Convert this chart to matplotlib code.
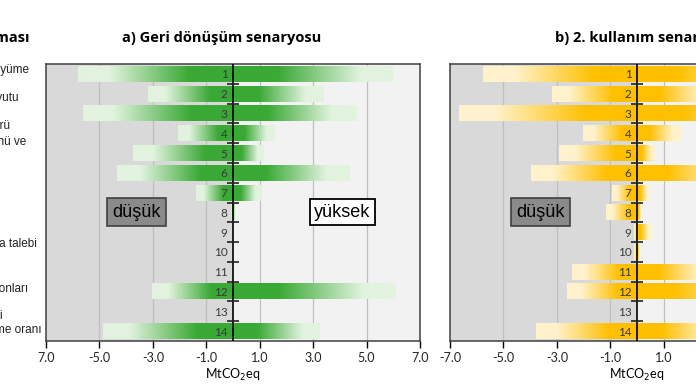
import numpy as np
import matplotlib
matplotlib.use("Agg")
import matplotlib.pyplot as plt
from matplotlib.colors import LinearSegmentedColormap

# parameter numbers (rows)
rows = list(range(1, 15))

# a) recycling scenario, MtCO2eq (low side / high side), 0 = no bar
a_low = [-5.8, -3.2, -5.6, -2.07, -3.74, -4.34, -1.39, -0.08, 0, 0, 0, -3.05, 0, -4.87]
a_high = [5.97, 3.37, 4.64, 1.57, 1.15, 4.37, 1.03, 0.05, 0, 0, 0, 6.09, 0, 3.25]

# b) reuse scenario
b_low = [-5.78, -3.17, -6.68, -2.02, -2.92, -3.96, -0.93, -1.17, -0.12, -0.12, -2.44, -2.63, 0, -3.79]
b_high = [5.5, 3.0, 6.0, 1.65, 0.64, 4.0, 0.44, 0.18, 0.49, 0.09, 2.9, 5.0, 0, 3.3]

xticks = [-7, -5, -3, -1, 1, 3, 5, 7]
a_ticklabels = ["7.0", "-5.0", "-3.0", "-1.0", "1.0", "3.0", "5.0", "7.0"]
b_ticklabels = ["-7.0", "-5.0", "-3.0", "-1.0", "1.0", "3.0", "5.0", "7.0"]

# category labels on the left (cut off by the image edge)
side_title = "Parametre açıklaması"
side_labels = ["Ekonomik büyüme", "Nüfus boyutu", "Bina türü", "Yapı ömrünü ve",
               "Barınma talebi", "Üretim emisyonları", "Geri dönüşüm verimi",
               "Yeniden işleme oranı"]
side_y = [70, 98, 126, 142, 244, 288, 316, 330]
side_xend = [29, 19, 10, 26, 37, 28, 3, 42]

W, H = 696, 385
fig = plt.figure(figsize=(W / 100, H / 100), dpi=100)

green = LinearSegmentedColormap.from_list(
    "g", [(0, "#3aa935"), (0.28, "#3aa935"), (0.8, "#e2f3df"), (1, "#e2f3df")])
gold = LinearSegmentedColormap.from_list(
    "y", [(0, "#ffc000"), (0.28, "#ffc000"), (0.8, "#fff2cc"), (1, "#fff2cc")])

grad = np.linspace(0, 1, 256).reshape(1, -1)


def panel(ax, low, high, cmap, ticklabels):
    ax.axvspan(-7, 0, color="#d9d9d9", zorder=0, lw=0)
    ax.axvspan(0, 7, color="#f2f2f2", zorder=0, lw=0)
    for g in [-5, -3, -1, 1, 3, 5]:
        ax.axvline(g, color="#bfbfbf", lw=0.9, zorder=1)
    h = 0.8
    for r, lo, hi in zip(rows, low, high):
        if lo < 0:
            ax.imshow(grad[:, ::-1], cmap=cmap, extent=[lo, 0, r + h / 2, r - h / 2],
                      aspect="auto", interpolation="bilinear", zorder=2)
        if hi > 0:
            ax.imshow(grad, cmap=cmap, extent=[0, hi, r + h / 2, r - h / 2],
                      aspect="auto", interpolation="bilinear", zorder=2)
        ax.text(-0.2, r + 0.05, str(r), ha="right", va="center", fontsize=8.5,
                color="#3a3a3a", family="Lato", zorder=4)
    ax.axvline(0, color="black", lw=1.2, zorder=3)
    ax.plot([0] * 13, [r + 0.5 for r in rows[:-1]], ls="none", marker="_",
            ms=8, mew=1.2, color="#222222", zorder=3)
    ax.set_xlim(-7, 7)
    ax.set_ylim(14.5, 0.5)
    ax.set_yticks([])
    ax.set_xticks(xticks)
    ax.set_xticklabels(ticklabels, fontsize=9, family="Lato", color="#222222")
    ax.tick_params(axis="x", direction="out", length=5, width=1, pad=3)
    ax.set_xlabel("MtCO$_2$eq", fontsize=9, family="Lato", labelpad=2)
    for s in ax.spines.values():
        s.set_color("#404040")
        s.set_linewidth(1.1)


ax1 = fig.add_axes([46 / W, 44 / H, 374 / W, 277 / H])
panel(ax1, a_low, a_high, green, a_ticklabels)
ax2 = fig.add_axes([450 / W, 44 / H, 374 / W, 277 / H])
panel(ax2, b_low, b_high, gold, b_ticklabels)

grey_box = dict(boxstyle="square,pad=0.3", fc="#8a8a8a", ec="#404040", lw=1.2)
white_box = dict(boxstyle="square,pad=0.25", fc="white", ec="black", lw=1.3)
ax1.text(-3.6, 8, "düşük", ha="center", va="center", fontsize=13,
         family="Liberation Sans", bbox=grey_box, zorder=5)
ax1.text(4.1, 8, "yüksek", ha="center", va="center", fontsize=13,
         family="Liberation Sans", bbox=white_box, zorder=5)
ax2.text(-3.6, 8, "düşük", ha="center", va="center", fontsize=13,
         family="Liberation Sans", bbox=grey_box, zorder=5)

fig.text(222 / W, 1 - 38 / H, "a) Geri dönüşüm senaryosu", ha="center", va="center",
         fontsize=10.5, fontweight="bold", family="Open Sans")
fig.text(555 / W, 1 - 38 / H, "b) 2. kullanım senaryosu", ha="left", va="center",
         fontsize=10.5, fontweight="bold", family="Open Sans")
fig.text(30 / W, 1 - 38 / H, side_title, ha="right", va="center",
         fontsize=10.5, fontweight="bold", family="Open Sans")
for lab, y, xe in zip(side_labels, side_y, side_xend):
    fig.text(xe / W, 1 - y / H, lab, ha="right", va="center", fontsize=8.5,
             family="Liberation Sans", color="#222222")

fig.savefig("out.png", dpi=100)
